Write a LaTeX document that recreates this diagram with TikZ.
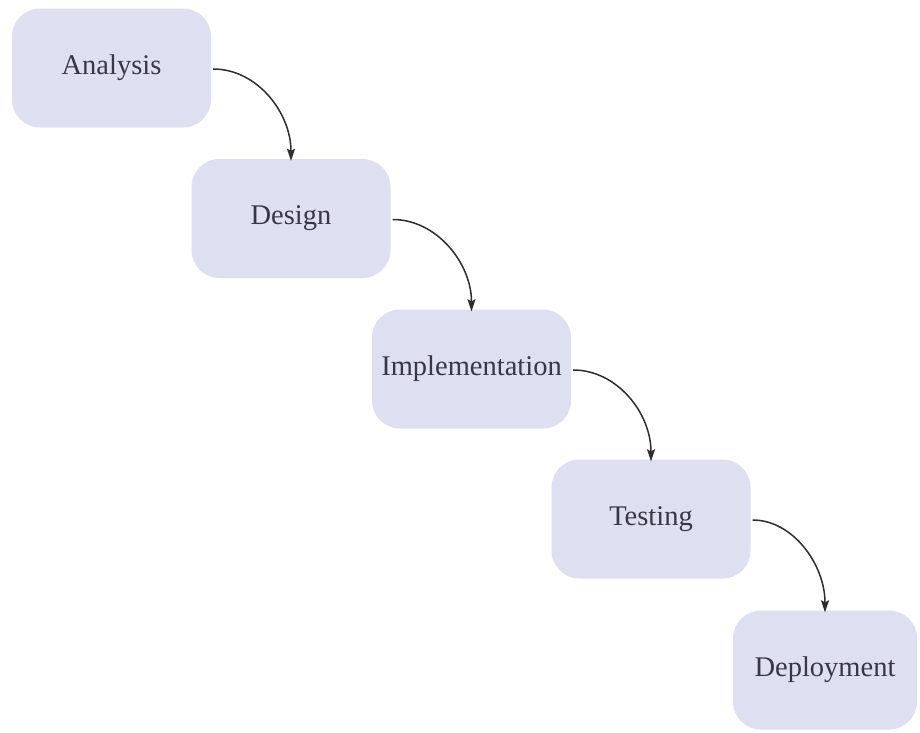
\documentclass[tikz,border=0pt]{standalone}
\usepackage{fontspec}
\setmainfont{Liberation Serif}
\usetikzlibrary{arrows.meta}
\definecolor{boxfill}{RGB}{222,223,240}
\definecolor{txt}{RGB}{55,55,72}
\definecolor{arr}{RGB}{45,45,50}
\begin{document}
\begin{tikzpicture}[x=1pt,y=-1pt,
  stagebox/.style={fill=boxfill,draw=none,rounded corners=28pt,minimum width=199pt,minimum height=119pt,inner sep=0pt,text=txt,font=\fontsize{28.5}{32}\selectfont},
  flow/.style={draw=arr,line width=1.5pt,-{Stealth[length=12pt,width=8pt,inset=2pt]}}]
\useasboundingbox (0,0) rectangle (920,732);
\fill[white] (0,0) rectangle (920,732);
\node[stagebox] (an) at (111.5,68) {Analysis};
\node[stagebox] (de) at (291,218.5) {Design};
\node[stagebox] (im) at (471.5,369) {Implementation};
\node[stagebox] (te) at (651,519) {Testing};
\node[stagebox,minimum width=184pt] (dp) at (825,670) {Deployment};
\draw[flow] ([shift={(2,1)}]an.east) .. controls +(44,0) and +(0,-48) .. ([yshift=-2]de.north);
\draw[flow] ([shift={(2,1)}]de.east) .. controls +(44,0) and +(0,-48) .. ([yshift=-2]im.north);
\draw[flow] ([shift={(2,1)}]im.east) .. controls +(44,0) and +(0,-48) .. ([yshift=-2]te.north);
\draw[flow] ([shift={(2,1)}]te.east) .. controls +(40,0) and +(0,-48) .. ([yshift=-2]dp.north);
\end{tikzpicture}
\end{document}
